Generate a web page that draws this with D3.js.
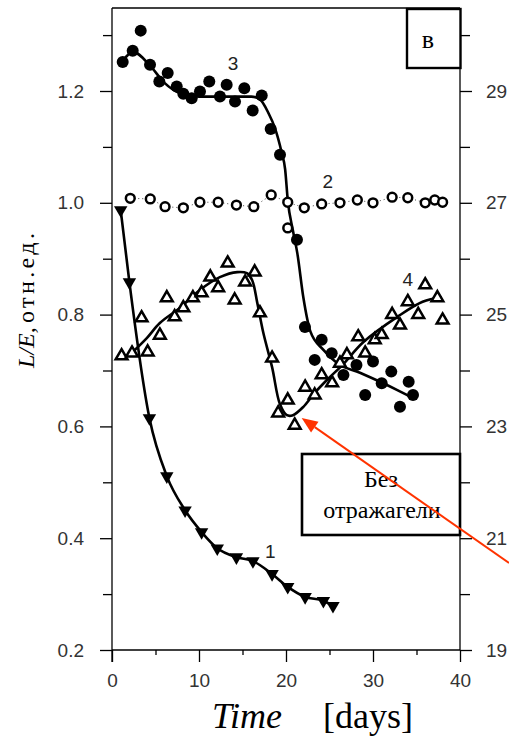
<!DOCTYPE html>
<html>
<head>
<meta charset="utf-8">
<script src="https://cdn.jsdelivr.net/npm/d3@7"></script>
<style>
  html, body { margin: 0; padding: 0; background: #fff; }
  svg { display: block; }
  .tick text { font-family: "Liberation Sans Narrow", "Arial Narrow", "Liberation Sans", Arial, sans-serif; font-size: 19px; fill: #333; }
  .domain, .tick line { stroke: #000; stroke-width: 1.3px; }
</style>
</head>
<body>
<svg id="chart" width="509" height="743"></svg>
<script>
// Curve 1: filled down-triangles [day, L/E]
const series1 = [[1,0.987],[2,0.858],[4.3,0.615],[6.3,0.511],[8.4,0.450],[10.3,0.411],[12.1,0.382],
  [14.3,0.366],[16.2,0.359],[18.4,0.336],[20.2,0.313],[22.2,0.295],[24.3,0.288],[25.4,0.279]];

// Curve 2: open circles
const series2 = [[2.1,1.008],[4.4,1.007],[6.1,0.993],[8.2,0.991],[10.1,1.001],[12.2,1.001],[14.3,0.996],
  [16.3,0.993],[18.3,1.014],[20.2,1.001],[20.2,0.955],[22.1,0.991],[24.1,0.998],[26.2,1.0],[28.2,1.005],
  [30.0,1.0],[32.2,1.010],[34.0,1.009],[36.0,1.0],[37.1,1.005],[38.0,1.001]];

// Curve 3: filled circles
const series3 = [[1.23,1.252],[2.38,1.272],[3.30,1.308],[4.37,1.247],[5.44,1.217],[6.40,1.232],[7.44,1.208],
  [8.20,1.195],[9.16,1.187],[10.11,1.199],[11.18,1.217],[12.41,1.190],[13.18,1.211],[14.14,1.181],
  [15.21,1.205],[16.17,1.165],[17.21,1.192],[18.24,1.132],[19.31,1.086],[21.26,0.934],[22.18,0.778],
  [23.3,0.719],[24.1,0.755],[25.25,0.731],[26.6,0.692],[28.1,0.71],[30.0,0.716],[29.1,0.656],
  [31.0,0.677],[32.1,0.698],[33.1,0.635],[34.1,0.68],[34.6,0.656]];
const fit3 = [[1.3,1.255],[2.4,1.27],[4.4,1.245],[6,1.215],[8,1.195],[10,1.19],[12,1.19],[14,1.19],
  [16,1.19],[17,1.185],[18,1.16],[18.7,1.135],[19.5,1.09],[19.9,1.06],[20.2,1.005],[20.8,0.95],
  [21.3,0.91],[22,0.83],[22.8,0.77],[24.3,0.737],[25.9,0.713],[28.5,0.696],[32.8,0.665],[34.3,0.653]];

// Curve 4: open up-triangles
const series4 = [[1.1,0.726],[2.3,0.731],[3.4,0.794],[4.1,0.733],[5.5,0.763],[6.3,0.83],[7.2,0.796],
  [8.2,0.812],[9.3,0.83],[10.3,0.839],[11.3,0.867],[12.2,0.848],[13.3,0.892],[14.1,0.826],[15.3,0.858],
  [16.4,0.876],[17.0,0.803],[18.4,0.722],[19.1,0.624],[20.2,0.647],[21.0,0.602],[22.2,0.670],
  [23.3,0.656],[24.1,0.692],[25.3,0.678],[26.2,0.713],[27.0,0.728],[28.3,0.76],[29.1,0.731],
  [30.2,0.755],[31.0,0.764],[32.2,0.8],[33.1,0.781],[34.0,0.823],[35.2,0.8],[36.0,0.853],
  [37.4,0.83],[38.0,0.79]];
const fit4 = [[2.5,0.735],[4,0.758],[5.5,0.785],[7.8,0.812],[10.1,0.844],[12.4,0.867],[14.4,0.876],
  [15.5,0.874],[16.1,0.862],[16.7,0.821],[17.4,0.767],[18.4,0.706],[19.3,0.64],[20.1,0.62],
  [20.8,0.62],[22,0.635],[23.3,0.66],[24.7,0.683],[26.5,0.71],[28.9,0.751],[32.8,0.796],
  [35.7,0.823],[37.9,0.831]];

// Axis ticks
const xMajor = [0, 10, 20, 30, 40];
const xMinor = [5, 15, 25, 35];
const yMajor = [0.2, 0.4, 0.6, 0.8, 1.0, 1.2];
const yMinor = [0.3, 0.5, 0.7, 0.9, 1.1, 1.3];
const rMajor = [19, 21, 23, 25, 27, 29];
const rMinor = [20, 22, 24, 26, 28, 30];

// Curve labels: [text, day, L/E]
const curveLabels = [["1", 18.2, 0.365], ["2", 24.8, 1.026], ["3", 13.9, 1.238], ["4", 34.0, 0.851]];

const svg = d3.select("#chart");
const x = d3.scaleLinear().domain([0, 40]).range([112, 460]);
const y = d3.scaleLinear().domain([0.2, 1.2]).range([650, 91]);
const yR = d3.scaleLinear().domain([19, 29]).range([650, 91]);
const yTop = y.invert(8);

// Frame: top edge
svg.append("line").attr("x1", x(0)).attr("x2", x(40)).attr("y1", y(yTop)).attr("y2", y(yTop))
  .attr("stroke", "#000").attr("stroke-width", 1.3);

// Left axis
const gL = svg.append("g").attr("transform", `translate(${x(0)},0)`);
gL.call(d3.axisLeft(y).tickValues(yMajor).tickSize(12).tickPadding(16).tickFormat(d3.format(".1f")));
gL.select(".domain").attr("d", `M0,${y(yTop)}V${y(0.2) + 12}`);
gL.append("g").call(d3.axisLeft(y).tickValues(yMinor).tickSize(9).tickFormat(""))
  .select(".domain").remove();

// Right axis
const gR = svg.append("g").attr("transform", `translate(${x(40)},0)`);
gR.call(d3.axisRight(yR).tickValues(rMajor).tickSize(12).tickPadding(14).tickFormat(d3.format("d")));
gR.select(".domain").attr("d", `M0,${y(yTop)}V${y(0.2)}`);
gR.append("g").call(d3.axisRight(yR).tickValues(rMinor).tickSize(10).tickFormat(""))
  .select(".domain").remove();

// Bottom axis
const gB = svg.append("g").attr("transform", `translate(0,${y(0.2)})`);
gB.call(d3.axisBottom(x).tickValues(xMajor).tickSize(12).tickPadding(12).tickFormat(d3.format("d")));
gB.select(".domain").attr("d", `M${x(0)},0H${x(40)}`);
gB.append("g").call(d3.axisBottom(x).tickValues(xMinor).tickSize(5).tickFormat(""))
  .select(".domain").remove();

const plot = svg.append("g");
const lineOf = curve => d3.line().x(d => x(d[0])).y(d => y(d[1])).curve(curve);

// Curve 2: thin dotted connector
plot.append("path").datum(series2.filter((d, i) => i !== 10))
  .attr("d", lineOf(d3.curveLinear)).attr("fill", "none")
  .attr("stroke", "#444").attr("stroke-width", 1).attr("stroke-dasharray", "1,3");

// Fitted lines
plot.append("path").datum(series1).attr("d", lineOf(d3.curveMonotoneX))
  .attr("fill", "none").attr("stroke", "#000").attr("stroke-width", 2.6);
plot.append("path").datum(fit3).attr("d", lineOf(d3.curveMonotoneX))
  .attr("fill", "none").attr("stroke", "#000").attr("stroke-width", 2.6);
plot.append("path").datum(fit4).attr("d", lineOf(d3.curveCatmullRom))
  .attr("fill", "none").attr("stroke", "#000").attr("stroke-width", 2.6);

// Markers
const triDown = d3.symbol().type(d3.symbolTriangle).size(78);
plot.append("g").selectAll("path").data(series1).join("path")
  .attr("d", triDown).attr("transform", d => `translate(${x(d[0])},${y(d[1])}) rotate(180)`)
  .attr("fill", "#000");
plot.append("g").selectAll("circle").data(series2).join("circle")
  .attr("cx", d => x(d[0])).attr("cy", d => y(d[1])).attr("r", 4.4)
  .attr("fill", "#fff").attr("stroke", "#000").attr("stroke-width", 2.5);
plot.append("g").selectAll("circle").data(series3).join("circle")
  .attr("cx", d => x(d[0])).attr("cy", d => y(d[1])).attr("r", 6)
  .attr("fill", "#000");
const triUp = d3.symbol().type(d3.symbolTriangle).size(60);
plot.append("g").selectAll("path").data(series4).join("path")
  .attr("d", triUp).attr("transform", d => `translate(${x(d[0])},${y(d[1])})`)
  .attr("fill", "#fff").attr("stroke", "#000").attr("stroke-width", 2.5).attr("stroke-linejoin", "miter");

// Curve numbers
svg.append("g").selectAll("text").data(curveLabels).join("text")
  .attr("x", d => x(d[1])).attr("y", d => y(d[2])).attr("text-anchor", "middle")
  .attr("font-family", "Liberation Sans Narrow, Arial Narrow, Liberation Sans, Arial, sans-serif")
  .attr("font-size", 19).attr("fill", "#222")
  .text(d => d[0]);

// Panel letter box
svg.append("rect").attr("x", 407).attr("y", 9).attr("width", 53.5).attr("height", 59)
  .attr("fill", "#fff").attr("stroke", "#000").attr("stroke-width", 2.4);
svg.append("text").attr("x", 428).attr("y", 48).attr("text-anchor", "middle")
  .attr("font-family", "Liberation Serif, Times New Roman, serif").attr("font-size", 26).text("в");

// Note box
svg.append("rect").attr("x", 302).attr("y", 454).attr("width", 158).attr("height", 81)
  .attr("fill", "#fff").attr("stroke", "#000").attr("stroke-width", 2.6);
const note = svg.append("text").attr("text-anchor", "middle")
  .attr("font-family", "Liberation Serif, Times New Roman, serif").attr("font-size", 24);
note.append("tspan").attr("x", 381).attr("y", 487).text("Без");
note.append("tspan").attr("x", 382).attr("y", 518).text("отражагели");

// Red pointer arrow
const tipX = x(21.8), tipY = y(0.615);
const tailX = 509, tailY = 563;
const ang = Math.atan2(tipY - tailY, tipX - tailX);
const hl = 16, hw = 6.5;
const bx = tipX - hl * Math.cos(ang), by = tipY - hl * Math.sin(ang);
svg.append("line").attr("x1", tailX).attr("y1", tailY).attr("x2", bx).attr("y2", by)
  .attr("stroke", "#ff3300").attr("stroke-width", 2);
svg.append("path")
  .attr("d", `M${tipX},${tipY}L${bx - hw * Math.sin(ang)},${by + hw * Math.cos(ang)}L${bx + hw * Math.sin(ang)},${by - hw * Math.cos(ang)}Z`)
  .attr("fill", "#ff3300");

// Axis titles
const yt = svg.append("g").attr("transform", "translate(34,368) rotate(-90)");
yt.append("text").attr("x", 0).attr("y", 0)
  .attr("font-family", "Liberation Serif, Times New Roman, serif").attr("font-size", 24)
  .attr("font-style", "italic").text("L/E,");
yt.append("text").attr("x", 45).attr("y", 0)
  .attr("font-family", "Liberation Serif, Times New Roman, serif").attr("font-size", 24)
  .attr("textLength", 90).attr("lengthAdjust", "spacing").text("отн.ед.");

svg.append("text").attr("x", 212).attr("y", 728)
  .attr("font-family", "Liberation Serif, Times New Roman, serif").attr("font-size", 36)
  .attr("font-style", "italic").text("Time");
svg.append("text").attr("x", 323).attr("y", 728)
  .attr("font-family", "Liberation Serif, Times New Roman, serif").attr("font-size", 36)
  .text("[days]");
</script>
</body>
</html>
